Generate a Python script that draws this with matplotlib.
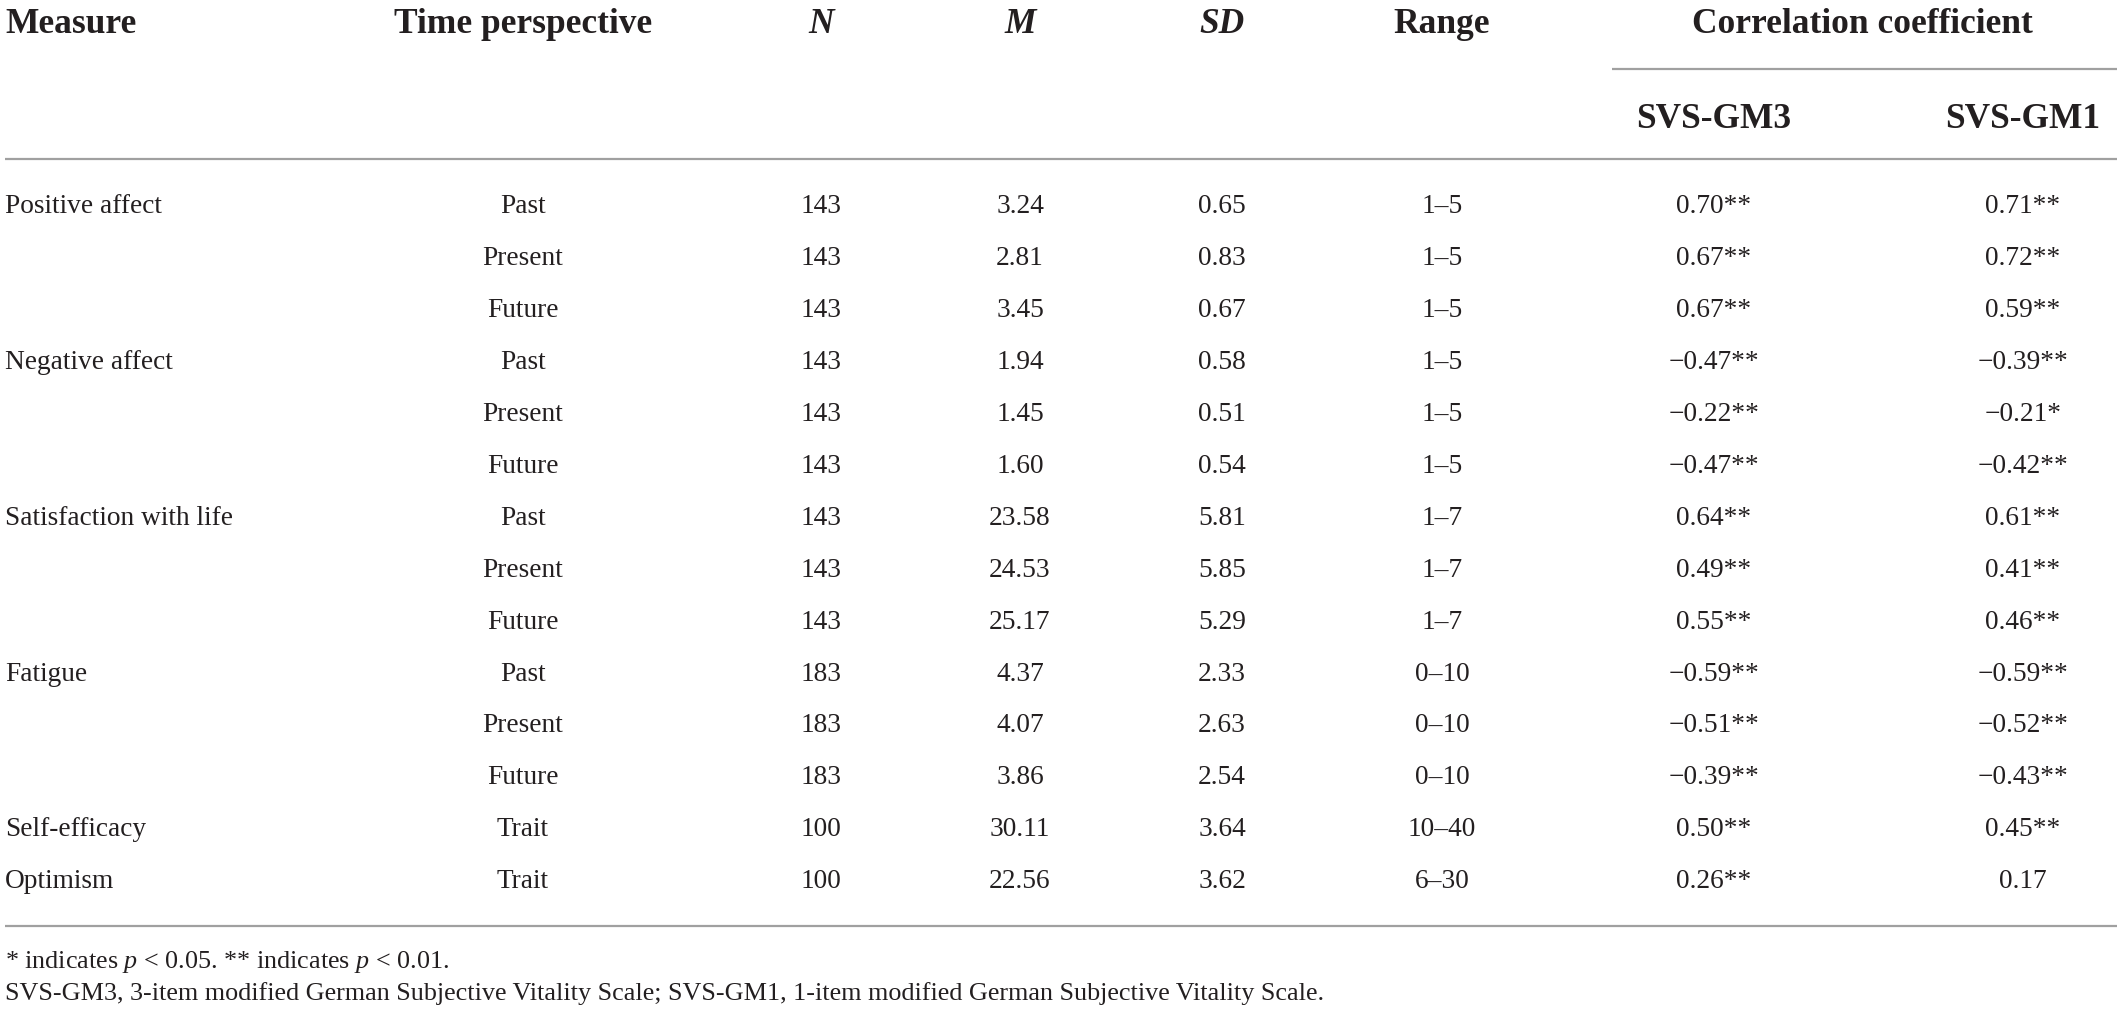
import matplotlib
matplotlib.use("Agg")
import matplotlib.pyplot as plt

# ---------------- data ----------------
measures = ["Positive affect", "", "", "Negative affect", "", "",
            "Satisfaction with life", "", "", "Fatigue", "", "",
            "Self-efficacy", "Optimism"]
time_persp = ["Past", "Present", "Future"] * 4 + ["Trait", "Trait"]
n_vals = [143] * 9 + [183] * 3 + [100, 100]
m_vals = [3.24, 2.81, 3.45, 1.94, 1.45, 1.60, 23.58, 24.53, 25.17,
          4.37, 4.07, 3.86, 30.11, 22.56]
sd_vals = [0.65, 0.83, 0.67, 0.58, 0.51, 0.54, 5.81, 5.85, 5.29,
           2.33, 2.63, 2.54, 3.64, 3.62]
ranges = ["1–5"] * 6 + ["1–7"] * 3 + ["0–10"] * 3 + ["10–40", "6–30"]
r_gm3 = [0.70, 0.67, 0.67, -0.47, -0.22, -0.47, 0.64, 0.49, 0.55,
         -0.59, -0.51, -0.39, 0.50, 0.26]
sig_gm3 = ["**"] * 14
r_gm1 = [0.71, 0.72, 0.59, -0.39, -0.21, -0.42, 0.61, 0.41, 0.46,
         -0.59, -0.52, -0.43, 0.45, 0.17]
sig_gm1 = ["**"] * 4 + ["*"] + ["**"] * 8 + [""]
headers = ["Measure", "Time perspective", "N", "M", "SD", "Range"]
group_header = "Correlation coefficient"
sub_headers = ["SVS-GM3", "SVS-GM1"]
footnotes = [r"* indicates $p$ < 0.05. ** indicates $p$ < 0.01.",
             "SVS-GM3, 3-item modified German Subjective Vitality Scale; "
             "SVS-GM1, 1-item modified German Subjective Vitality Scale."]

# ---------------- style ----------------
plt.rcParams["font.family"] = ["Liberation Serif", "DejaVu Serif"]
plt.rcParams["mathtext.fontset"] = "custom"
plt.rcParams["mathtext.rm"] = "Liberation Serif"
plt.rcParams["mathtext.it"] = "Liberation Serif:italic"
TXT = "#231f20"
LINE = "#a0a0a0"
HEAD_FS = 25.5
BODY_FS = 19.7
FOOT_FS = 18.8

W, H = 2117, 1016
fig = plt.figure(figsize=(W / 100, H / 100), dpi=100)
ax = fig.add_axes([0, 0, 1, 1])
ax.set_xlim(0, W)
ax.set_ylim(H, 0)
ax.axis("off")

col_x = [5, 523, 821, 1020, 1222, 1442, 1714, 2023]
col_ha = ["left", "center", "center", "center", "center", "center",
          "center", "center"]
head_style = ["normal", "normal", "italic", "italic", "italic", "normal"]

# header
hb = 33
for i, h in enumerate(headers):
    ax.text(col_x[i], hb, h, ha=col_ha[i], va="baseline", fontsize=HEAD_FS,
            fontweight="bold", fontstyle=head_style[i], color=TXT)
ax.text(1862, hb, group_header, ha="center", va="baseline", fontsize=HEAD_FS,
        fontweight="bold", color=TXT)
for j, h in enumerate(sub_headers):
    ax.text(col_x[6 + j], 128, h, ha="center", va="baseline", fontsize=HEAD_FS,
            fontweight="bold", color=TXT)

ax.plot([1612, W], [69, 69], color=LINE, lw=1.6, solid_capstyle="butt")
ax.plot([5, W], [159, 159], color=LINE, lw=1.6, solid_capstyle="butt")
ax.plot([5, W], [926, 926], color=LINE, lw=1.6, solid_capstyle="butt")


def fmt_r(v, s):
    t = f"{abs(v):.2f}"
    return ("−" if v < 0 else "") + t + s


row0, step = 213, 51.95
for i in range(len(time_persp)):
    yb = row0 + i * step
    cells = [measures[i], time_persp[i], str(n_vals[i]), f"{m_vals[i]:.2f}",
             f"{sd_vals[i]:.2f}", ranges[i], fmt_r(r_gm3[i], sig_gm3[i]),
             fmt_r(r_gm1[i], sig_gm1[i])]
    for c, txt in enumerate(cells):
        if txt:
            ax.text(col_x[c], yb, txt, ha=col_ha[c], va="baseline",
                    fontsize=BODY_FS, color=TXT)

ax.text(5, 968, footnotes[0], ha="left", va="baseline", fontsize=FOOT_FS,
        color=TXT)
ax.text(5, 1000, footnotes[1], ha="left", va="baseline", fontsize=FOOT_FS,
        color=TXT)

fig.savefig("out.png", dpi=100, facecolor="white")
